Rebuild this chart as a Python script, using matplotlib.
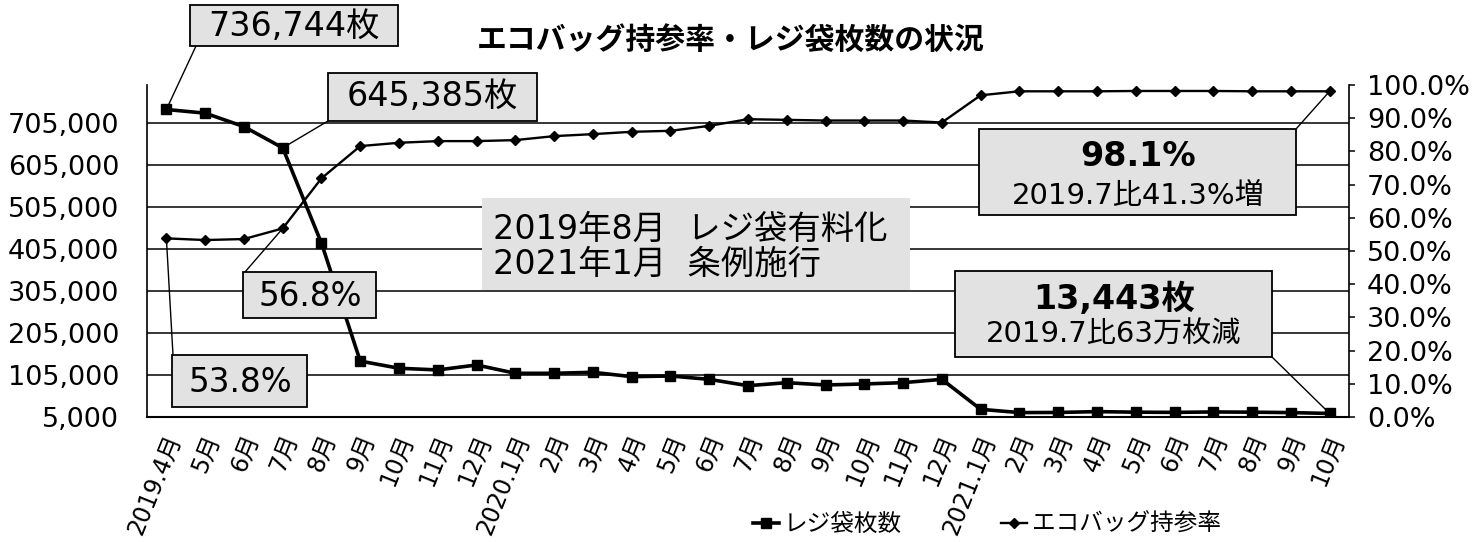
import matplotlib
matplotlib.use('Agg')
import matplotlib.pyplot as plt
from matplotlib.patches import Rectangle, ConnectionPatch
from matplotlib.lines import Line2D
from matplotlib.transforms import ScaledTranslation
import numpy as np

plt.rcParams['font.family'] = ['DejaVu Sans', 'Noto Sans CJK JP']

# ---------------- data ----------------
months = ['2019.4月', '5月', '6月', '7月', '8月', '9月', '10月', '11月', '12月',
          '2020.1月', '2月', '3月', '4月', '5月', '6月', '7月', '8月', '9月', '10月', '11月', '12月',
          '2021.1月', '2月', '3月', '4月', '5月', '6月', '7月', '8月', '9月', '10月']
bags = [736744, 728000, 696000, 645385, 418500, 138000, 121000, 117000, 128800,
        109000, 109000, 111400, 101000, 102600, 94600, 79500, 86700, 81200, 83600, 86700, 94600,
        23300, 15500, 15800, 17800, 16500, 16000, 17000, 16500, 15500, 13443]
eco = [0.538, 0.533, 0.536, 0.568, 0.719, 0.816, 0.826, 0.831, 0.831,
       0.834, 0.846, 0.852, 0.859, 0.862, 0.877, 0.897, 0.895, 0.893, 0.893, 0.893, 0.887,
       0.969, 0.981, 0.981, 0.981, 0.982, 0.982, 0.982, 0.981, 0.981, 0.981]
left_ticks = [5000, 105000, 205000, 305000, 405000, 505000, 605000, 705000]
right_ticks = [0.0, 0.1, 0.2, 0.3, 0.4, 0.5, 0.6, 0.7, 0.8, 0.9, 1.0]
series_names = ['レジ袋枚数', 'エコバッグ持参率']
title = 'エコバッグ持参率・レジ袋枚数の状況'
note_lines = ['2019年8月  レジ袋有料化', '2021年1月  条例施行']

# ---------------- layout helpers ----------------
W, H = 1475, 542
fig = plt.figure(figsize=(W / 100, H / 100), dpi=100)


def fx(px):
    return px / W


def fy(py):
    return 1 - py / H


BOXFACE = '#e2e2e2'

ax = fig.add_axes([fx(147), fy(417), (1349 - 147) / W, (417 - 85) / H])
x = np.arange(len(months))
ax.set_xlim(-0.5, len(months) - 0.5)
ax.set_ylim(5000, 795000)
ax.set_yticks(left_ticks)
ax.set_yticklabels([f'{v:,}' for v in left_ticks], fontsize=19.5)
ax.tick_params(axis='y', length=0, pad=20)
ax.grid(axis='y', color='black', lw=1.1)
ax.set_axisbelow(True)
for s in ['top', 'right']:
    ax.spines[s].set_visible(False)
ax.spines['left'].set_linewidth(1.2)
ax.spines['bottom'].set_linewidth(1.5)

ax.set_xticks(x)
ax.set_xticklabels(months, fontsize=17, rotation=68, ha='right', va='center',
                   rotation_mode='anchor')
ax.tick_params(axis='x', length=0, pad=13)
off = ScaledTranslation(6 / 72, 0, fig.dpi_scale_trans)
for lab in ax.get_xticklabels():
    lab.set_transform(lab.get_transform() + off)

ax.plot(x, bags, color='black', lw=2.6, marker='s', ms=7.5, zorder=3)

ax2 = ax.twinx()
ax2.set_ylim(0, 1.0)
ax2.set_yticks(right_ticks)
ax2.set_yticklabels([f'{v * 100:.1f}%' for v in right_ticks], fontsize=19.5)
ax2.tick_params(axis='y', length=4, width=1.1, pad=9)
for s in ['top', 'left', 'bottom']:
    ax2.spines[s].set_visible(False)
ax2.spines['right'].set_linewidth(1.2)
ax2.plot(x, eco, color='black', lw=1.7, marker='D', ms=5, zorder=3)

# ---------------- title ----------------
fig.text(fx(731), fy(40), title, fontsize=21.5, fontweight='bold', ha='center', va='center',
         family=['Noto Sans CJK JP'])


# ---------------- annotation boxes ----------------
def box(x0, y0, x1, y1, edge=True):
    r = Rectangle((fx(x0), fy(y1)), fx(x1) - fx(x0), (y1 - y0) / H, transform=fig.transFigure,
                  facecolor=BOXFACE, edgecolor='black' if edge else 'none', lw=1.3, zorder=5)
    fig.add_artist(r)


def leader(px, py, target_ax, xi, yv):
    c = ConnectionPatch(xyA=(fx(px), fy(py)), coordsA=fig.transFigure,
                        xyB=(xi, yv), coordsB=target_ax.transData, color='black', lw=1.0, zorder=4)
    fig.add_artist(c)


# 736,744枚
box(190, 5, 398, 46)
fig.text(fx(294), fy(26), f'{bags[0]:,}枚', fontsize=24, ha='center', va='center', zorder=6)
leader(196, 46, ax, 0, bags[0])

# 645,385枚
box(328, 73, 537, 121)
fig.text(fx(432), fy(97), f'{bags[3]:,}枚', fontsize=24, ha='center', va='center', zorder=6)
leader(328, 121, ax, 3, bags[3])

# 56.8%
box(243, 272, 376, 318)
fig.text(fx(310), fy(296), f'{eco[3] * 100:.1f}%', fontsize=23.5, ha='center', va='center', zorder=6)
leader(245, 272, ax2, 3, eco[3])

# 53.8%
box(172, 355, 307, 407)
fig.text(fx(240), fy(382), f'{eco[0] * 100:.1f}%', fontsize=23.5, ha='center', va='center', zorder=6)
leader(173, 355, ax2, 0, eco[0])

# 98.1%
box(979, 129, 1296, 215)
fig.text(fx(1138), fy(157), f'{eco[-1] * 100:.1f}%', fontsize=24, fontweight='bold',
         ha='center', va='center', zorder=6)
fig.text(fx(1138), fy(196), '2019.7比41.3%増', fontsize=21, ha='center', va='center', zorder=6)
leader(1296, 129, ax2, len(eco) - 1, eco[-1])

# 13,443枚
box(955, 271, 1272, 357)
fig.text(fx(1114), fy(299), f'{bags[-1]:,}枚', fontsize=24, fontweight='bold',
         ha='center', va='center', zorder=6)
fig.text(fx(1114), fy(335), '2019.7比63万枚減', fontsize=21, ha='center', va='center', zorder=6)
leader(1272, 357, ax, len(bags) - 1, bags[-1])

# central note
box(482, 198, 910, 290, edge=False)
fig.text(fx(493), fy(229), note_lines[0], fontsize=24, ha='left', va='center', zorder=6)
fig.text(fx(493), fy(264), note_lines[1], fontsize=24, ha='left', va='center', zorder=6)

# ---------------- legend ----------------
handles = [Line2D([], [], color='black', lw=2.6, marker='s', ms=7.5),
           Line2D([], [], color='black', lw=1.7, marker='D', ms=5)]
fig.legend(handles, series_names, loc='center', bbox_to_anchor=(fx(987), fy(524)), ncol=2,
           frameon=False, fontsize=17, handlelength=1.1, handletextpad=0.2, columnspacing=4.2)

fig.savefig('out.png', dpi=100)
